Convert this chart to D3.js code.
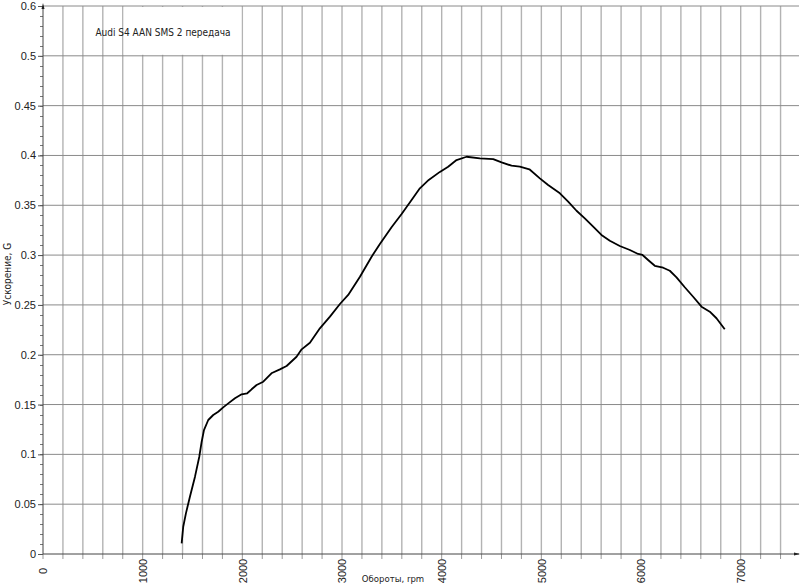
<!DOCTYPE html>
<html>
<head>
<meta charset="utf-8">
<script src="https://cdn.jsdelivr.net/npm/d3@7"></script>
<style>
  html, body { margin: 0; padding: 0; background: #fff; }
  svg { display: block; }
  text { font-family: "Liberation Sans Narrow", "DejaVu Sans Condensed", sans-serif; fill: #222; }
</style>
</head>
<body>
<svg id="chart" width="800" height="586"></svg>
<script>
// ---- data ----
const rpm = [1391, 1407, 1434, 1474, 1525, 1568, 1592, 1615, 1658, 1708, 1758, 1808, 1859, 1926, 1993, 2049,
  2093, 2143, 2210, 2297, 2377, 2444, 2544, 2595, 2678, 2778, 2879, 2979, 3062, 3180, 3297, 3380, 3497,
  3598, 3698, 3781, 3870, 3982, 4065, 4149, 4250, 4383, 4517, 4601, 4701, 4784, 4880, 4985, 5068, 5186,
  5269, 5353, 5436, 5520, 5603, 5687, 5787, 5888, 5971, 6015, 6071, 6138, 6222, 6289, 6356, 6439, 6523,
  6607, 6690, 6757, 6840];
const accel = [0.0107, 0.0274, 0.0408, 0.0575, 0.0776, 0.0976, 0.1127, 0.1244, 0.1345, 0.1395, 0.1428,
  0.1472, 0.1512, 0.1563, 0.1603, 0.1613, 0.1653, 0.1696, 0.1729, 0.1817, 0.1853, 0.1887, 0.198, 0.2054,
  0.212, 0.2265, 0.2382, 0.2509, 0.26, 0.2783, 0.2984, 0.3111, 0.3279, 0.3412, 0.3553, 0.367, 0.3754,
  0.3835, 0.3887, 0.3954, 0.3987, 0.3971, 0.3964, 0.3931, 0.3897, 0.3887, 0.3861, 0.377, 0.3703, 0.362,
  0.3536, 0.3445, 0.3369, 0.3285, 0.3202, 0.3144, 0.3091, 0.3051, 0.3011, 0.3001, 0.2951, 0.2893, 0.2873,
  0.2843, 0.2777, 0.2677, 0.2582, 0.2482, 0.2432, 0.2366, 0.2255];
const xTickValues = [0, 1000, 2000, 3000, 4000, 5000, 6000, 7000];
const xTickLabels = ["0", "1000", "2000", "3000", "4000", "5000", "6000", "7000"];
const yTickValues = [0, 0.05, 0.1, 0.15, 0.2, 0.25, 0.3, 0.35, 0.4, 0.45, 0.5, 0.55];
const yTickLabels = ["0", "0.05", "0.1", "0.15", "0.2", "0.25", "0.3", "0.35", "0.4", "0.45", "0.5", "0.6"];
const chartTitle = "Audi S4 AAN SMS 2 передача";
const xTitle = "Обороты, rpm";
const yTitle = "Ускорение, G";

// ---- layout ----
const svg = d3.select("#chart");
const x = d3.scaleLinear().domain([0, 7585]).range([43, 799]);
const y = d3.scaleLinear().domain([0, 0.55]).range([554, 6]);

const xGrid = d3.range(200, 7401, 200);
const xMinor = d3.range(0, 7401, 200);
const yMinor = d3.range(0, 0.5501, 0.01);

// vertical grid
svg.append("g").selectAll("line").data(xGrid).join("line")
  .attr("x1", d => x(d)).attr("x2", d => x(d))
  .attr("y1", y(0.55)).attr("y2", y(0))
  .attr("stroke", "#b3b3b3").attr("stroke-width", 1.4);

// title box (covers grid)
svg.append("rect")
  .attr("x", x(800) + 1).attr("width", x(2000) - x(800) - 2)
  .attr("y", y(0.55) + 1).attr("height", y(0.5) - y(0.55) - 2)
  .attr("fill", "#fff");

// horizontal grid
svg.append("g").selectAll("line").data(yTickValues.slice(1)).join("line")
  .attr("x1", x(0)).attr("x2", 799)
  .attr("y1", d => y(d)).attr("y2", d => y(d))
  .attr("stroke", "#8a8a8a").attr("stroke-width", 1);

// y minor ticks
svg.append("g").selectAll("line").data(yMinor).join("line")
  .attr("x1", x(0) - 3).attr("x2", x(0))
  .attr("y1", d => Math.round(y(d)) + 0.5).attr("y2", d => Math.round(y(d)) + 0.5)
  .attr("stroke", "#777").attr("stroke-width", 1);

// x minor ticks
svg.append("g").selectAll("line").data(xMinor).join("line")
  .attr("x1", d => x(d)).attr("x2", d => x(d))
  .attr("y1", y(0)).attr("y2", y(0) + 5)
  .attr("stroke", "#999").attr("stroke-width", 1);

// y axis (major ticks + labels)
const yAxis = d3.axisLeft(y).tickValues(yTickValues)
  .tickFormat((d, i) => yTickLabels[i]).tickSize(5).tickPadding(2);
const gy = svg.append("g").attr("transform", `translate(${x(0)},0)`).call(yAxis);
gy.select(".domain").remove();
gy.selectAll(".tick line").attr("stroke", "#555");
gy.selectAll(".tick text").style("font-size", "11px").attr("fill", "#222")
  .style("font-family", "'Liberation Sans Narrow', sans-serif");

// x axis labels
const xAxis = d3.axisBottom(x).tickValues(xTickValues)
  .tickFormat((d, i) => xTickLabels[i]).tickSize(0);
const gx = svg.append("g").attr("transform", `translate(0,${y(0)})`).call(xAxis);
gx.select(".domain").remove();
gx.selectAll(".tick text")
  .attr("transform", "translate(0,17) rotate(-90)")
  .attr("y", 0).attr("x", 0).attr("dy", "0.35em")
  .attr("text-anchor", "middle")
  .style("font-size", "11px").attr("fill", "#222")
  .style("font-family", "'Liberation Sans Narrow', sans-serif");

// axis lines with arrows
svg.append("line").attr("x1", x(0)).attr("x2", x(0)).attr("y1", y(0)).attr("y2", y(0.55))
  .attr("stroke", "#444").attr("stroke-width", 1);
svg.append("line").attr("x1", x(0)).attr("x2", 799).attr("y1", y(0)).attr("y2", y(0))
  .attr("stroke", "#444").attr("stroke-width", 1);
svg.append("path")
  .attr("d", `M${x(0)},${y(0.55) - 3} L${x(0) - 1.5},${y(0.55) + 3} L${x(0) + 1.5},${y(0.55) + 3} Z`)
  .attr("fill", "#222");
svg.append("path")
  .attr("d", `M800,${y(0)} L794,${y(0) - 1.5} L794,${y(0) + 1.5} Z`)
  .attr("fill", "#222");

// curve
const pts = rpm.map((r, i) => [r, accel[i]]);
svg.append("path")
  .datum(pts)
  .attr("fill", "none")
  .attr("stroke", "#000")
  .attr("stroke-width", 1.8)
  .attr("stroke-linejoin", "round")
  .attr("d", d3.line().x(d => x(d[0])).y(d => y(d[1])).curve(d3.curveLinear));

// titles
svg.append("text").attr("x", 163).attr("y", 36).attr("text-anchor", "middle")
  .style("font-size", "10px").text(chartTitle);
svg.append("text").attr("x", 393).attr("y", 582).attr("text-anchor", "middle")
  .style("font-size", "9.5px").text(xTitle);
svg.append("text").attr("transform", "translate(11,274) rotate(-90)").attr("text-anchor", "middle")
  .style("font-size", "10px").text(yTitle);
</script>
</body>
</html>
